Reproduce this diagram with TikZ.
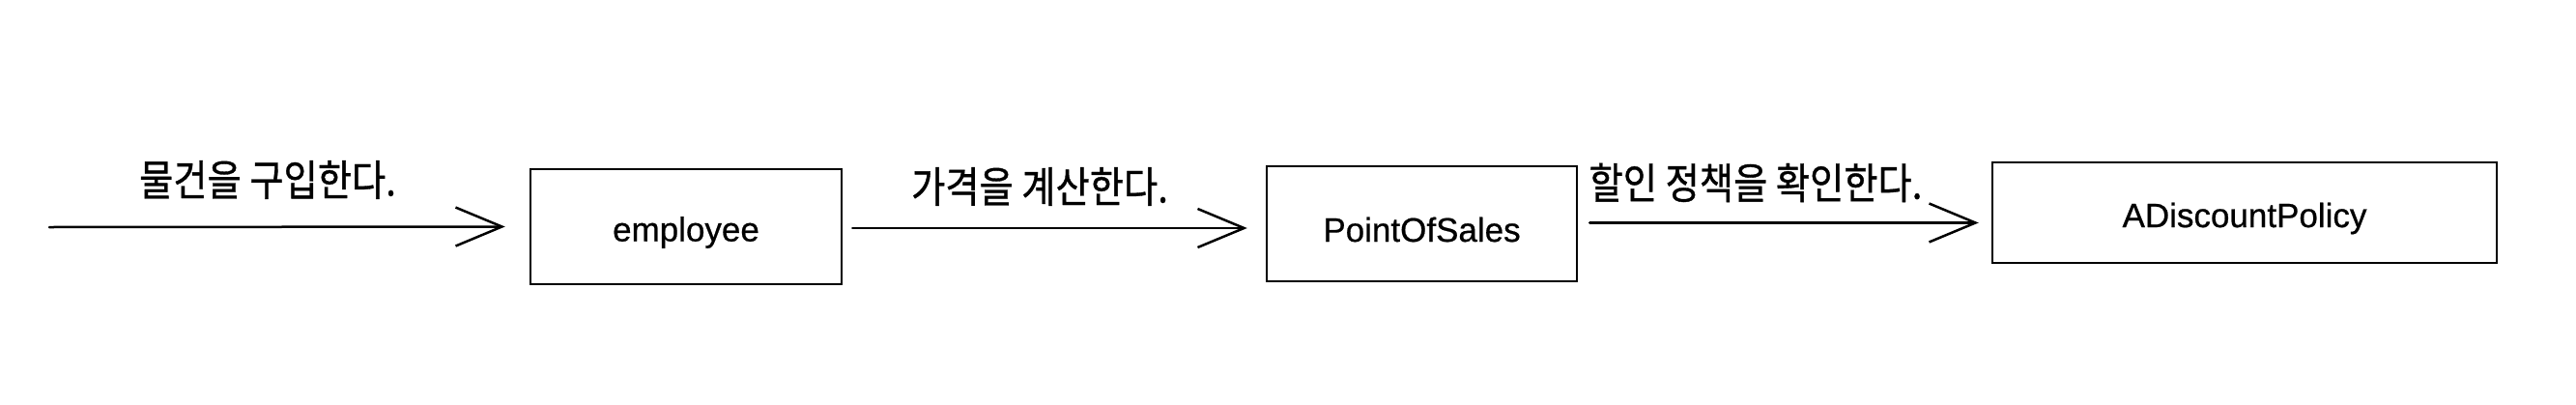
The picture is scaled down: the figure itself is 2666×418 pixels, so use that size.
\documentclass[tikz,border=0pt]{standalone}
\usepackage{fontspec}
\setmainfont{Liberation Sans}
\newfontfamily\boxfont[FakeBold=0.6]{Liberation Sans}
\newfontfamily\kr[FakeBold=0.8,FakeStretch=0.87]{Noto Sans CJK KR}
\newcommand\dn[1]{\raisebox{-6pt}[\height][\depth]{#1}}
\usetikzlibrary{arrows.meta}
\begin{document}
\begin{tikzpicture}[x=1pt,y=-1pt,
  box/.style={draw, line width=2.5pt, inner sep=0pt,
    font=\boxfont\fontsize{35}{40}\selectfont},
  lbl/.style={inner sep=0pt, font=\kr\fontsize{44}{50}\selectfont},
  arr/.style={line width=2.5pt, line cap=round,
    -{Straight Barb[length=48pt,width=40pt]}}]
\useasboundingbox (0,0) rectangle (2666,418);
\node[box, minimum width=322pt, minimum height=119pt] (emp) at (710,234.5) {\dn{employee}};
\node[box, minimum width=321pt, minimum height=119pt] (pos) at (1471.5,231.5) {\dn{PointOfSales}};
\node[box, minimum width=522pt, minimum height=104pt] (adp) at (2323,220) {\dn{ADiscountPolicy}};
\coordinate (start) at (51,235);
\path (adp.west |- pos.east) coordinate (a3e);
\draw[arr] (start) -- ([xshift=-25pt]emp.west);
\draw[arr] ([xshift=10pt,yshift=-1.5pt]emp.east) -- ([xshift=-19pt,yshift=-4.5pt]pos.west);
\draw[arr] ([xshift=12pt,yshift=1pt]pos.east) -- ([xshift=-13pt,yshift=1pt]a3e);
\node[lbl] (l1) at (277,186) {물건을 구입한다.};
\node[lbl] (l2) at (1076,193) {가격을 계산한다.};
\node[lbl] (l3) at (1817,189) {할인 정책을 확인한다.};
\end{tikzpicture}
\end{document}
